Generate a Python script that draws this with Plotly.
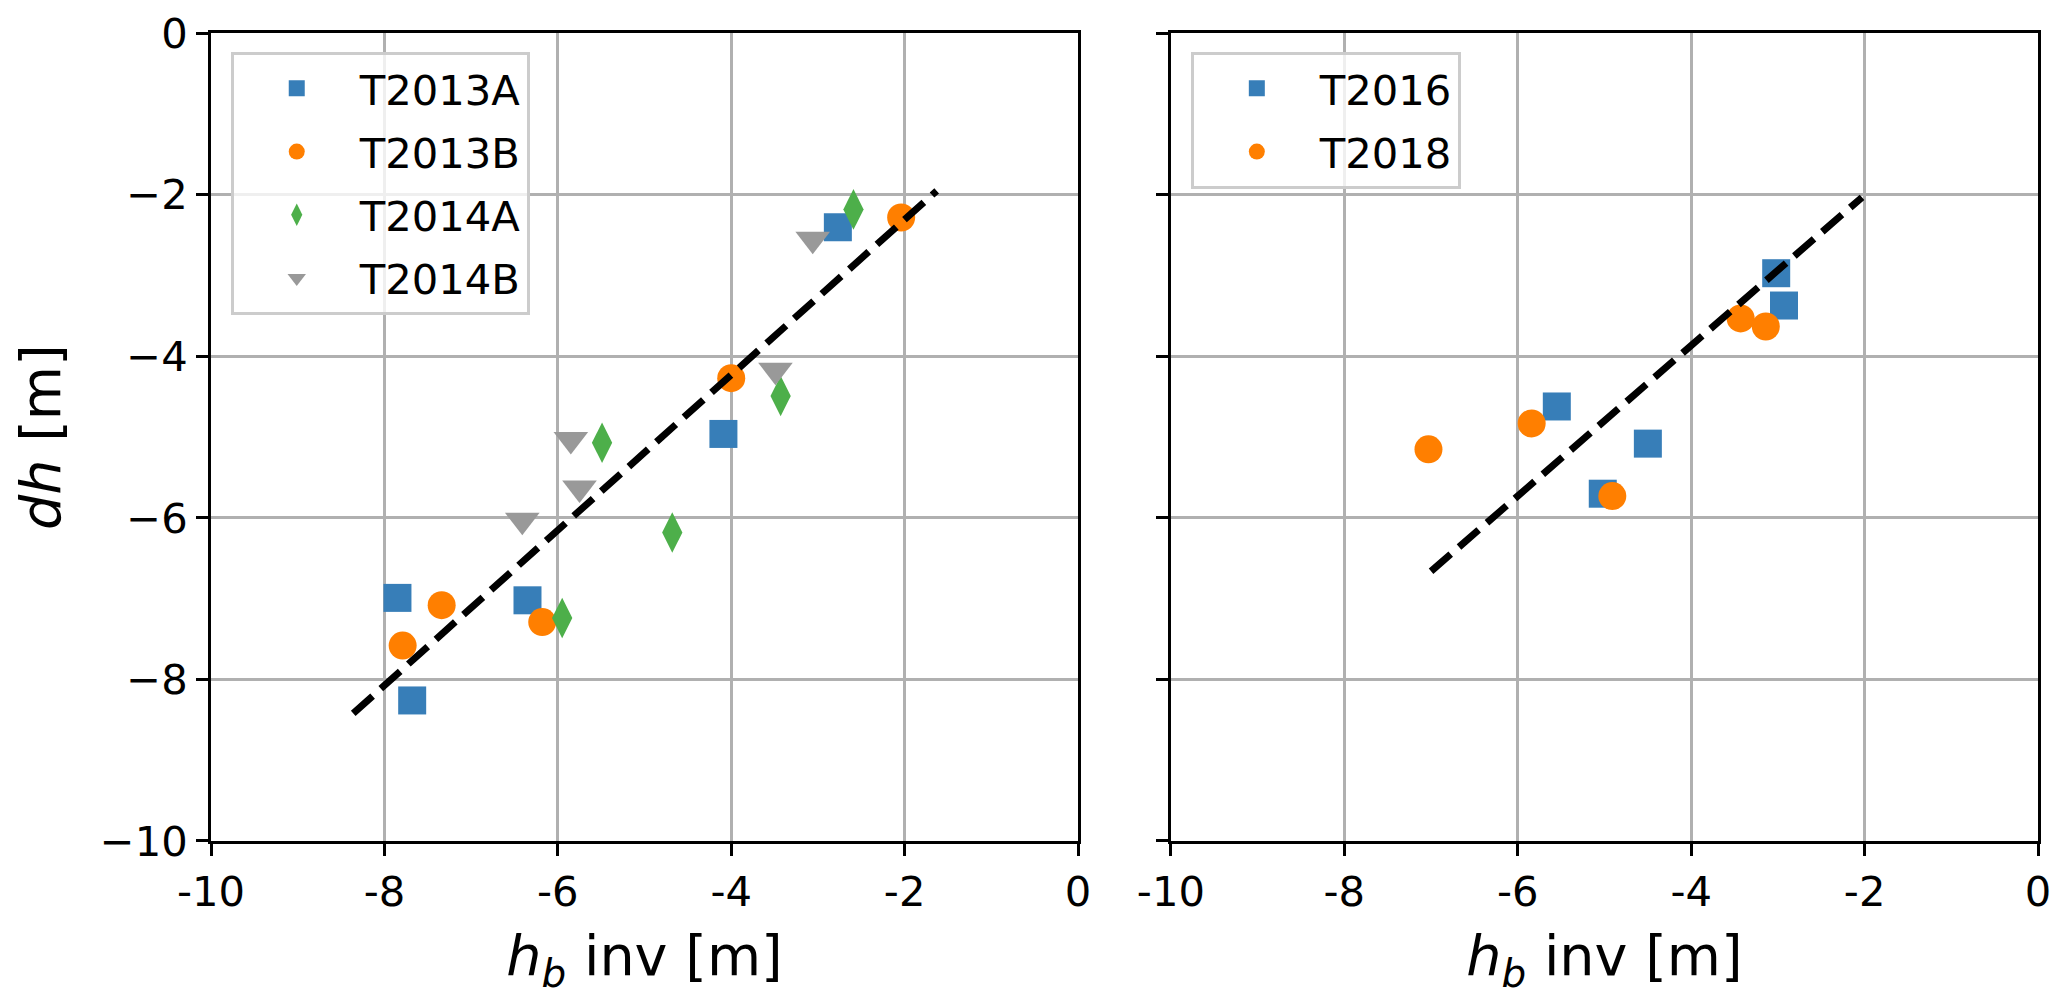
import plotly.graph_objects as go
from plotly.subplots import make_subplots

# left panel: 2013/2014 transects
t2013a_x = [-7.85, -7.68, -6.35, -4.09, -2.77]
t2013a_y = [-6.99, -8.26, -7.02, -4.96, -2.40]
t2013b_x = [-7.79, -7.34, -6.18, -4.00, -2.04]
t2013b_y = [-7.58, -7.08, -7.29, -4.27, -2.28]
t2014a_x = [-5.95, -4.68, -5.49, -3.43, -2.59]
t2014a_y = [-7.24, -6.18, -5.07, -4.49, -2.18]
t2014b_x = [-6.41, -5.85, -5.75, -3.49, -3.06]
t2014b_y = [-6.03, -5.03, -5.63, -4.17, -2.55]
fit_left_x = [-8.36, -1.63]
fit_left_y = [-8.42, -1.95]

# right panel: 2016/2018 transects
t2016_x = [-3.02, -2.93, -5.55, -4.50, -5.02]
t2016_y = [-2.97, -3.37, -4.62, -5.08, -5.70]
t2018_x = [-3.43, -3.14, -5.84, -7.03, -4.91]
t2018_y = [-3.53, -3.63, -4.83, -5.15, -5.73]
fit_right_x = [-7.00, -2.03]
fit_right_y = [-6.66, -2.03]

tick_vals = [-10, -8, -6, -4, -2, 0]
x_tick_text = ["-10", "-8", "-6", "-4", "-2", "0"]

BLUE = "#377eb8"
ORANGE = "#ff7f00"
GREEN = "#4daf4a"
GRAY = "#999999"
FONT = "DejaVu Sans"
TICK_PX = 41.7
LABEL_PX = 55.6
LW = 2.8

fig = make_subplots(rows=1, cols=2, shared_yaxes=True)

left = [
    ("T2013A", t2013a_x, t2013a_y, "square", BLUE, 28),
    ("T2013B", t2013b_x, t2013b_y, "circle", ORANGE, 28),
    ("T2014A", t2014a_x, t2014a_y, "diamond-tall", GREEN, 29),
    ("T2014B", t2014b_x, t2014b_y, "triangle-down", GRAY, 30),
]
for name, xs, ys, sym, col, sz in left:
    fig.add_trace(go.Scatter(x=xs, y=ys, mode="markers", name=name, legend="legend",
                             legendgroup=name,
                             marker=dict(symbol=sym, color=col, size=sz, line=dict(width=0))),
                  row=1, col=1)
fig.add_trace(go.Scatter(x=fit_left_x, y=fit_left_y, mode="lines", showlegend=False,
                         line=dict(color="black", width=7, dash="26px,11px")),
              row=1, col=1)

right = [
    ("T2016", t2016_x, t2016_y, "square", BLUE, 28),
    ("T2018", t2018_x, t2018_y, "circle", ORANGE, 28),
]
for name, xs, ys, sym, col, sz in right:
    fig.add_trace(go.Scatter(x=xs, y=ys, mode="markers", name=name, legend="legend2",
                             legendgroup=name,
                             marker=dict(symbol=sym, color=col, size=sz, line=dict(width=0))),
                  row=1, col=2)
fig.add_trace(go.Scatter(x=fit_right_x, y=fit_right_y, mode="lines", showlegend=False,
                         line=dict(color="black", width=7, dash="26px,11px")),
              row=1, col=2)

axis_common = dict(
    range=[-10, 0], tickvals=tick_vals, showgrid=True, gridcolor="#b0b0b0", gridwidth=LW,
    showline=True, linecolor="black", linewidth=LW, mirror=True, zeroline=False,
    ticks="outside", ticklen=12, tickwidth=LW, tickcolor="black", automargin=False,
    tickfont=dict(family=FONT, size=TICK_PX, color="black"),
)
xtitle = dict(text="<i>h</i><sub><i>b</i></sub> inv [m]",
              font=dict(family=FONT, size=LABEL_PX, color="black"), standoff=22)

# page body keeps an 8px margin, so the figure is 16px smaller than the window
fig.update_xaxes(**axis_common, ticktext=x_tick_text, title=xtitle)
fig.update_yaxes(**axis_common)
fig.update_xaxes(domain=[0.0990, 0.5217], row=1, col=1)
fig.update_xaxes(domain=[0.5670, 0.9898], row=1, col=2)
fig.update_yaxes(domain=[0.1586, 0.9744])
fig.update_yaxes(title=dict(text="<i>dh</i> [m]", font=dict(family=FONT, size=LABEL_PX, color="black"),
                            standoff=22), row=1, col=1)
fig.update_yaxes(showticklabels=False, row=1, col=2)

legend_style = dict(
    bgcolor="rgba(255,255,255,0.8)", bordercolor="#cccccc", borderwidth=LW,
    font=dict(family=FONT, size=TICK_PX, color="black"),
    xanchor="left", yanchor="top", tracegroupgap=6, itemwidth=116,
)
fig.update_layout(
    width=2051, height=990,
    margin=dict(l=0, r=0, t=0, b=0),
    paper_bgcolor="white", plot_bgcolor="white",
    font=dict(family=FONT, color="black"),
    legend=dict(x=0.1087, y=0.9556, **legend_style),
    legend2=dict(x=0.5768, y=0.9556, **legend_style),
)

fig.write_html("out.html")
